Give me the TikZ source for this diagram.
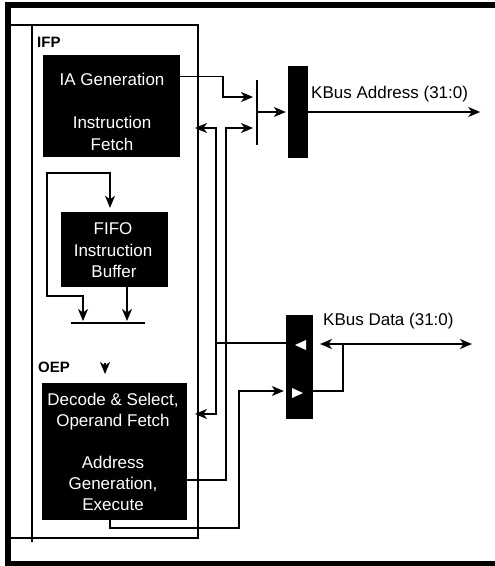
\documentclass[tikz,border=0pt]{standalone}
\usepackage{fontspec}
\setmainfont{Liberation Sans}
\usetikzlibrary{arrows.meta,calc}

\tikzset{
  blk/.style={fill=black,inner sep=0pt},
  wtext/.style={text=white,font=\fontsize{17}{21}\selectfont,inner sep=0pt,anchor=base},
  lbl/.style={font=\fontsize{17}{20}\selectfont,inner sep=0pt,anchor=base west},
  wire/.style={line width=1.3pt},
}

\begin{document}
\begin{tikzpicture}[x=1pt,y=-1pt,>={Stealth[length=12pt,width=10pt,inset=3.5pt]}]
  \useasboundingbox (0,0) rectangle (495,566);
  % frames
  \draw[line width=5.5pt] (495,5) -- (8,5) -- (8,563.5) -- (495,563.5);
  \draw[line width=1.2pt] (8,25) -- (198,25) -- (198,538) -- (8,538);
  \draw[line width=1.2pt] (32,25) -- (32,542);

  % blocks
  \node[blk,minimum width=137,minimum height=102] (ifp) at (111.5,106) {};
  \node[blk,minimum width=107,minimum height=75] (fifo) at (114.5,249.5) {};
  \node[blk,minimum width=145,minimum height=137] (dec) at (114.5,451.5) {};
  \node[blk,minimum width=20,minimum height=92] (kaddr) at (298,112) {};
  \node[blk,minimum width=27,minimum height=104] (kdata) at (299.5,367) {};

  \node[wtext] (iagen) at (112,85) {IA Generation};
  \node[wtext] (ifetch1) at (112,128) {Instruction};
  \node[wtext] (ifetch2) at (112,150) {Fetch};
  \node[wtext] (fifo1) at (113,234) {FIFO};
  \node[wtext] (fifo2) at (113,256) {Instruction};
  \node[wtext] (fifo3) at (114,277) {Buffer};
  \node[wtext] (dec1) at (113,405) {Decode \& Select,};
  \node[wtext] (dec2) at (113,426) {Operand Fetch};
  \node[wtext] (dec3) at (113,468) {Address};
  \node[wtext] (dec4) at (113,489) {Generation,};
  \node[wtext] (dec5) at (113,510) {Execute};

  \node[lbl,font=\fontsize{15}{18}\selectfont\bfseries] (ifplbl) at (37,47) {IFP};
  \node[lbl,font=\fontsize{15}{18}\selectfont\bfseries] (oeplbl) at (38,372) {OEP};
  \node[lbl] (addrlbl) at (311,98) {KBus Address (31:0)};
  \node[lbl] (datalbl) at (323,325) {KBus Data (31:0)};

  % bars
  \coordinate (abar1) at (257,80);
  \coordinate (abar2) at (257,145);
  \draw[wire] (abar1) -- (abar2);
  \coordinate (mux1) at (71,323);
  \coordinate (mux2) at (145,323);
  \draw[wire] (mux1) -- (mux2);
  \coordinate (ifpport) at (195,128);
  \coordinate (oepport) at (195,414);

  % address side
  \draw[wire,->,shorten >=4pt] ($(ifp.north east)+(0,22)$) -| (223,97) -- (abar1 |- 0,97);
  \draw[wire,->,shorten >=2pt] (abar1 |- kaddr.west) -- (kaddr.west);
  \draw[wire,->] (kaddr.east) -- ++(172,0);
  \draw[wire,<->] (ifpport) -| (216,414) -- (oepport);
  \draw[wire,->,shorten >=4pt] (dec.east |- 0,480) -| (226,128) -- (abar1 |- 0,128);

  % data side
  \draw[wire] (216,343) -- (kdata.west |- 0,343);
  \draw[wire,->,shorten >=2pt] (dec.south -| 110,0) |- (239,528) -- (239,391) -- (kdata.west |- 0,391);
  \draw[wire] (kdata.east |- 0,391) -| (343,344);
  \draw[wire,<->] (320,344) -- (472,344);
  \fill[white] (295,345) -- (306,340) -- (306,350) -- cycle;
  \fill[white] (303,393) -- (292,388) -- (292,398) -- cycle;

  % fifo
  \draw[wire,<->,shorten <=4pt,shorten >=2pt] (fifo.north -| 110,0) -- (110,173) -- (47,173) -- (47,296) -- (83,296) -- (mux1 -| 83,0);
  \draw[wire,->,shorten >=2pt] (fifo.south -| 127,0) -- (mux1 -| 127,0);
  \draw[wire,->] (105,363) -- (105,374);
\end{tikzpicture}
\end{document}
